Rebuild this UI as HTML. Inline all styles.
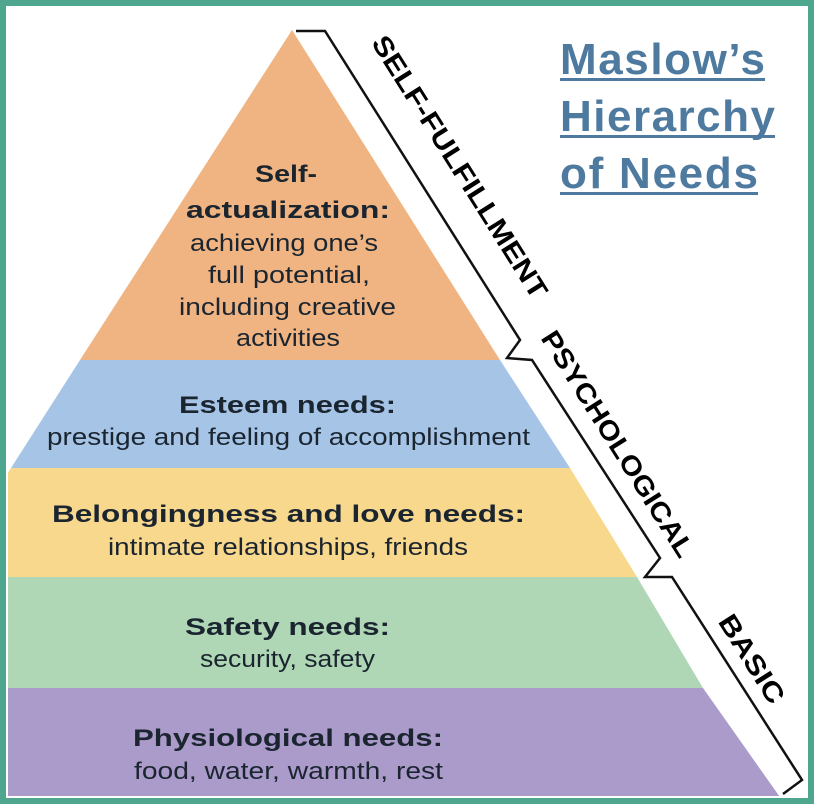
<!DOCTYPE html>
<html><head><meta charset="utf-8"><style>
html,body{margin:0;padding:0;background:#fff}
svg text{font-family:"Liberation Sans",sans-serif}
</style></head><body>
<svg width="814" height="804" viewBox="0 0 814 804" xmlns="http://www.w3.org/2000/svg">
<rect x="0" y="0" width="814" height="804" fill="#fff"/>
<defs><clipPath id="c"><rect x="8" y="8" width="798" height="788"/></clipPath></defs>
<g clip-path="url(#c)">
<polygon points="292,30 500,360 80,360" fill="#f0b482"/>
<polygon points="80,360 500,360 570,468 11,468" fill="#a5c4e6"/>
<polygon points="11,468 570,468 637,577 -60,577" fill="#f8d88c"/>
<polygon points="-60,577 637,577 703,688 -130,688" fill="#afd7b5"/>
<polygon points="-130,688 703,688 782,800 -200,800" fill="#ab9bcb"/>
</g>
<polyline points="296,31 325,31 520,340 507,358 532,360 660,558 645,577 672,577 802,780 783,794" fill="none" stroke="#111" stroke-width="2.5" stroke-linejoin="miter"/>
<rect x="3" y="3" width="808" height="798" fill="none" stroke="#4fa68e" stroke-width="6"/>
<g font-weight="bold" font-size="27" fill="#000">
<text transform="translate(458,168) rotate(57.8)" text-anchor="middle" dominant-baseline="middle" textLength="305" lengthAdjust="spacingAndGlyphs">SELF-FULFILLMENT</text>
<text transform="translate(616,445) rotate(57.8)" text-anchor="middle" dominant-baseline="middle" textLength="262" lengthAdjust="spacingAndGlyphs">PSYCHOLOGICAL</text>
<text transform="translate(750,660) rotate(57.8)" text-anchor="middle" dominant-baseline="middle" textLength="100" lengthAdjust="spacingAndGlyphs">BASIC</text>
</g>
<g font-weight="bold" font-size="44" fill="#4e7aa0" lengthAdjust="spacingAndGlyphs">
<text x="560" y="74" textLength="205">Maslow’s</text>
<text x="560" y="131" textLength="215">Hierarchy</text>
<text x="560" y="188" textLength="198">of Needs</text>
</g>
<g fill="#4e7aa0">
<rect x="560" y="78" width="205" height="3"/>
<rect x="560" y="135" width="215" height="3"/>
<rect x="560" y="192" width="198" height="3"/>
</g>
<g fill="#1b2530">
<g font-weight="bold" font-size="24">
<text x="255" y="182" textLength="62" lengthAdjust="spacingAndGlyphs">Self-</text>
<text x="186" y="218" textLength="204" lengthAdjust="spacingAndGlyphs">actualization:</text>
<text x="179" y="413" textLength="217" lengthAdjust="spacingAndGlyphs">Esteem needs:</text>
<text x="52" y="522" textLength="473" lengthAdjust="spacingAndGlyphs">Belongingness and love needs:</text>
<text x="185" y="635" textLength="205" lengthAdjust="spacingAndGlyphs">Safety needs:</text>
<text x="133" y="746" textLength="310" lengthAdjust="spacingAndGlyphs">Physiological needs:</text>
</g>
<g font-size="24">
<text x="190" y="251" textLength="188" lengthAdjust="spacingAndGlyphs">achieving one’s</text>
<text x="208" y="283" textLength="162" lengthAdjust="spacingAndGlyphs">full potential,</text>
<text x="179" y="315" textLength="217" lengthAdjust="spacingAndGlyphs">including creative</text>
<text x="236" y="346" textLength="104" lengthAdjust="spacingAndGlyphs">activities</text>
<text x="47" y="445" textLength="483" lengthAdjust="spacingAndGlyphs">prestige and feeling of accomplishment</text>
<text x="108" y="555" textLength="360" lengthAdjust="spacingAndGlyphs">intimate relationships, friends</text>
<text x="200" y="667" textLength="175" lengthAdjust="spacingAndGlyphs">security, safety</text>
<text x="134" y="779" textLength="309" lengthAdjust="spacingAndGlyphs">food, water, warmth, rest</text>
</g>
</g>
</svg>
</body></html>
